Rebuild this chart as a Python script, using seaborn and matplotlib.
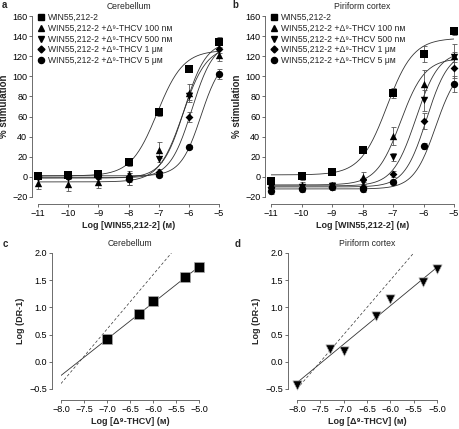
import numpy as np
import pandas as pd
import matplotlib
matplotlib.use("Agg")
import matplotlib.pyplot as plt
import seaborn as sns

# ---- data -------------------------------------------------------------
log_win = [-11, -10, -9, -8, -7, -6, -5]
series_labels = [
    "WIN55,212-2",
    "WIN55,212-2 +\u0394\u2079-THCV 100 n\u1d0d",
    "WIN55,212-2 +\u0394\u2079-THCV 500 n\u1d0d",
    "WIN55,212-2 +\u0394\u2079-THCV 1 \u03bc\u1d0d",
    "WIN55,212-2 +\u0394\u2079-THCV 5 \u03bc\u1d0d",
]
series_markers = ["s", "^", "v", "D", "o"]

# cerebellum (% stimulation, mean and s.e.m.)
cer_mean = [
    [1, 2, 3, 15, 65, 107, 134],
    [-6, -7, -5, 3, 27, 83, 121],
    [0, 0, 1, -2, 18, 80, 132],
    [0, 0, 0, -2, 5, 60, 127],
    [1, 1, 2, -2, 2, 30, 102],
]
cer_err = [
    [3, 3, 4, 4, 4, 2, 5],
    [6, 7, 6, 3, 8, 9, 6],
    [2, 2, 3, 6, 3, 4, 4],
    [2, 2, 2, 6, 3, 5, 4],
    [2, 2, 2, 3, 2, 2, 5],
]
# fitted curves: bottom, top, logEC50, hill
cer_fit = [
    [1, 126, -7.05, 1.0],
    [-5, 130, -6.2, 1.1],
    [-1, 135, -6.15, 1.2],
    [-1, 135, -5.9, 1.2],
    [1, 120, -5.6, 1.3],
]

# piriform cortex
pir_mean = [
    [-4, 1, 5, 27, 83, 122, 145],
    [-8, -8, -8, 0, 41, 92, 120],
    [-10, -10, -9, -5, 20, 76, 119],
    [-10, -11, -10, -10, 3, 56, 108],
    [-14, -12, -10, -12, -5, 31, 92],
]
pir_err = [
    [3, 4, 2, 3, 5, 8, 4],
    [3, 3, 3, 5, 9, 14, 12],
    [3, 3, 3, 3, 4, 10, 5],
    [3, 3, 3, 3, 3, 8, 10],
    [3, 3, 3, 3, 2, 3, 8],
]
pir_fit = [
    [2, 138, -7.2, 1.0],
    [-8, 118, -6.75, 1.1],
    [-9, 125, -6.25, 1.15],
    [-10, 125, -5.9, 1.2],
    [-12, 112, -5.6, 1.2],
]

# Schild plots: log [THCV] vs log (DR-1)
cer_thcv = [-7.0, -6.3, -6.0, -5.3, -5.0]
cer_dr = [0.41, 0.87, 1.11, 1.55, 1.74]
pir_thcv = [-8.0, -7.3, -7.0, -6.3, -6.0, -5.3, -5.0]
pir_dr = [-0.43, 0.23, 0.19, 0.84, 1.15, 1.47, 1.71]
# unity-slope reference lines: x where log(DR-1) = 0
cer_unity_x0 = -7.6
pir_unity_x0 = -7.5

# ---- style ------------------------------------------------------------
sns.set_theme(style="ticks")
plt.rcParams["font.family"] = ["Liberation Sans", "DejaVu Sans"]
plt.rcParams.update({
    "font.size": 6.5,
    "axes.labelsize": 6.5,
    "xtick.labelsize": 6.5,
    "ytick.labelsize": 6.5,
    "axes.linewidth": 0.6,
    "axes.edgecolor": "#555555",
    "xtick.color": "#555555",
    "ytick.color": "#555555",
    "xtick.labelcolor": "black",
    "ytick.labelcolor": "black",
    "xtick.major.width": 0.6,
    "ytick.major.width": 0.6,
    "xtick.major.size": 2.2,
    "ytick.major.size": 2.2,
    "xtick.major.pad": 1.5,
    "ytick.major.pad": 1.5,
})

fig = plt.figure(figsize=(4.59, 4.29), dpi=100)
W, H = 459, 429


def px_axes(x0, x1, ytop, ybot):
    return fig.add_axes([x0 / W, 1 - ybot / H, (x1 - x0) / W, (ybot - ytop) / H])


def logistic(x, bottom, top, ec50, hill):
    return bottom + (top - bottom) / (1 + 10 ** ((ec50 - x) * hill))


def bold_ticks(ax):
    for t in ax.get_xticklabels() + ax.get_yticklabels():
        t.set_fontweight("bold")


def conc_panel(ax, means, errs, fits, title):
    xs = np.linspace(-11, -5, 200)
    for lab, mk, m, e, f in zip(series_labels, series_markers, means, errs, fits):
        sns.lineplot(x=xs, y=logistic(xs, *f), ax=ax, color="#333333",
                     lw=0.6, legend=False)
        ax.errorbar(log_win, m, yerr=e, fmt="none", ecolor="#555555",
                    elinewidth=0.6, capsize=1.8, capthick=0.6, clip_on=False)
        ax.plot([], [], ls="none", marker=mk, color="black",
                ms=4.4 if mk != "D" else 3.5, label=lab)
        df = pd.DataFrame({"x": log_win, "y": m})
        sns.scatterplot(data=df, x="x", y="y", ax=ax, marker=mk, color="black",
                        s=28 if mk != "D" else 16, edgecolor="black",
                        linewidth=0, clip_on=False, zorder=5)
    ax.set_xlim(-11, -5)
    ax.set_ylim(-20, 160)
    ax.set_xticks(log_win)
    ax.set_yticks(range(-20, 161, 20))
    ax.set_yticklabels(["\u221220" if v < 0 else str(v) for v in range(-20, 161, 20)])
    ax.set_xticklabels(["\u2212" + str(abs(v)) for v in log_win])
    bold_ticks(ax)
    ax.set_xlabel("Log [WIN55,212-2] (\u1d0d)", fontweight="bold", labelpad=2)
    ax.set_ylabel("% stimulation", fontweight="bold", labelpad=2, fontsize=7)
    ax.set_title(title, fontsize=6.2, pad=5)
    sns.despine(ax=ax)
    ax.spines["left"].set_position(("outward", 4))
    ax.spines["bottom"].set_position(("outward", 5))
    ax.legend(loc="upper left", bbox_to_anchor=(-0.025, 1.035), frameon=False,
              handlelength=0.9, handletextpad=0.35, labelspacing=0.2,
              borderaxespad=0, fontsize=6.2)


def schild_panel(ax, xs, ys, x0, marker, title):
    slope, icpt = np.polyfit(xs, ys, 1)
    lx = np.array([-8.0, -5.0])
    sns.lineplot(x=lx, y=slope * lx + icpt, ax=ax, color="#333333", lw=0.6)
    ux = np.array([-8.0, x0 + 2.0])
    sns.lineplot(x=ux, y=ux - x0, ax=ax, color="#333333", lw=0.5,
                 linestyle=(0, (4, 3)))
    df = pd.DataFrame({"x": xs, "y": ys})
    sns.scatterplot(data=df, x="x", y="y", ax=ax, marker=marker, color="black",
                    s=44, edgecolor="#aaaaaa", linewidth=0.5, clip_on=False,
                    zorder=5)
    ax.set_xlim(-8, -5)
    ax.set_ylim(-0.5, 2.0)
    xt = np.arange(-8, -4.9, 0.5)
    yt = np.arange(-0.5, 2.01, 0.5)
    ax.set_xticks(xt)
    ax.set_xticklabels(["\u2212%.1f" % abs(v) for v in xt])
    ax.set_yticks(yt)
    ax.set_yticklabels(["\u22120.5" if v < 0 else "%.1f" % v for v in yt])
    bold_ticks(ax)
    ax.set_xlabel("Log [\u0394\u2079-THCV] (\u1d0d)", fontweight="bold", labelpad=2)
    ax.set_ylabel("Log (DR-1)", fontweight="bold", labelpad=3)
    ax.set_title(title, fontsize=6.2, pad=5)
    sns.despine(ax=ax)
    ax.spines["left"].set_position(("outward", 6.5))
    ax.spines["bottom"].set_position(("outward", 8))


ax_a = px_axes(38, 219, 16, 197)
conc_panel(ax_a, cer_mean, cer_err, cer_fit, "Cerebellum")
ax_b = px_axes(271, 454, 16, 197)
conc_panel(ax_b, pir_mean, pir_err, pir_fit, "Piriform cortex")

ax_c = px_axes(61, 199, 253, 389)
schild_panel(ax_c, cer_thcv, cer_dr, cer_unity_x0, "s", "Cerebellum")
ax_d = px_axes(297, 437, 253, 389)
schild_panel(ax_d, pir_thcv, pir_dr, pir_unity_x0, "v", "Piriform cortex")

for lt, (x, y) in zip("abcd", [(2, 5), (232, 5), (3, 244), (235, 244)]):
    fig.text(x / W, 1 - y / H, lt, fontweight="bold", fontsize=7, va="center")

fig.savefig("out.png", dpi=100)
